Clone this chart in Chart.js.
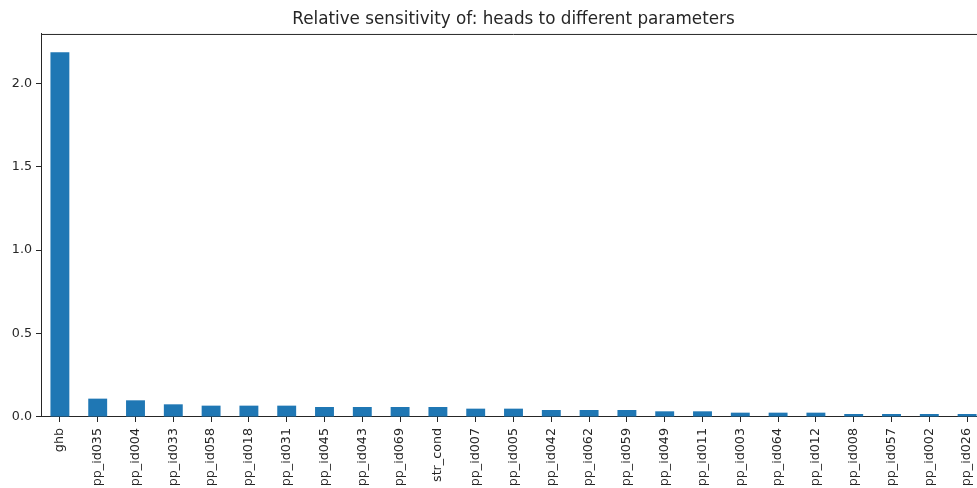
<!DOCTYPE html>
<html lang="en">
<head>
  <meta charset="UTF-8">
  <script src="https://cdn.jsdelivr.net/npm/chart.js"></script>
  <title>Relative sensitivity</title>
  <style>
    body { margin: 0; overflow: hidden; background: #fff; }
  </style>
</head>
<body>
  <canvas id="chart" width="990" height="488"></canvas>
  <script>
    const params = ['ghb', 'pp_id035', 'pp_id004', 'pp_id033', 'pp_id058', 'pp_id018', 'pp_id031',
      'pp_id045', 'pp_id043', 'pp_id069', 'str_cond', 'pp_id007', 'pp_id005', 'pp_id042',
      'pp_id062', 'pp_id059', 'pp_id049', 'pp_id011', 'pp_id003', 'pp_id064', 'pp_id012',
      'pp_id008', 'pp_id057', 'pp_id002', 'pp_id026']
    const sensitivity = [2.186, 0.110, 0.100, 0.076, 0.068, 0.068, 0.068,
      0.060, 0.060, 0.060, 0.060, 0.050, 0.050, 0.042,
      0.042, 0.042, 0.034, 0.034, 0.026, 0.026, 0.026,
      0.018, 0.018, 0.018, 0.018]
    const yTicks = [0, 0.5, 1.0, 1.5, 2.0]

    const ink = '#262626'
    const font = 'DejaVu Sans'

    // matplotlib draws a top spine too
    const topSpine = {
      id: 'topSpine',
      afterDraw(chart) {
        const {ctx, chartArea} = chart
        ctx.save()
        ctx.strokeStyle = ink
        ctx.lineWidth = 1
        ctx.beginPath()
        ctx.moveTo(chartArea.left, chartArea.top + 0.5)
        ctx.lineTo(chartArea.right, chartArea.top + 0.5)
        ctx.stroke()
        ctx.restore()
      }
    }

    new Chart(document.getElementById('chart'), {
      type: 'bar',
      data: {
        labels: params,
        datasets: [{
          data: sensitivity,
          backgroundColor: '#1f77b4',
          barPercentage: 0.5,
          categoryPercentage: 1.0
        }]
      },
      options: {
        responsive: false,
        animation: false,
        layout: { padding: { left: 0, right: 4, top: 0, bottom: 0 } },
        plugins: {
          legend: { display: false },
          tooltip: { enabled: false },
          title: {
            display: true,
            fullSize: false,
            text: 'Relative sensitivity of: heads to different parameters',
            color: ink,
            font: { family: font, size: 16.8, weight: 'normal' },
            padding: { top: 10, bottom: 3.8 }
          }
        },
        scales: {
          x: {
            grid: { display: true, offset: false, drawOnChartArea: false, drawTicks: true, tickLength: 5, color: ink },
            border: { display: true, color: ink, width: 1 },
            ticks: {
              color: ink,
              font: { family: font, size: 12.7 },
              minRotation: 90,
              maxRotation: 90,
              autoSkip: false,
              padding: 6
            },
            afterFit(scale) { scale.height = 71 }
          },
          y: {
            min: 0,
            max: 2.295,
            grid: { display: true, drawOnChartArea: false, drawTicks: true, tickLength: 5, color: ink },
            border: { display: true, color: ink, width: 1 },
            ticks: {
              color: ink,
              font: { family: font, size: 12.7 },
              padding: 4,
              callback: v => v.toFixed(1)
            },
            afterBuildTicks(scale) { scale.ticks = yTicks.map(v => ({value: v})) },
            afterFit(scale) { scale.width = 41 }
          }
        }
      },
      plugins: [topSpine]
    })
  </script>
</body>
</html>
